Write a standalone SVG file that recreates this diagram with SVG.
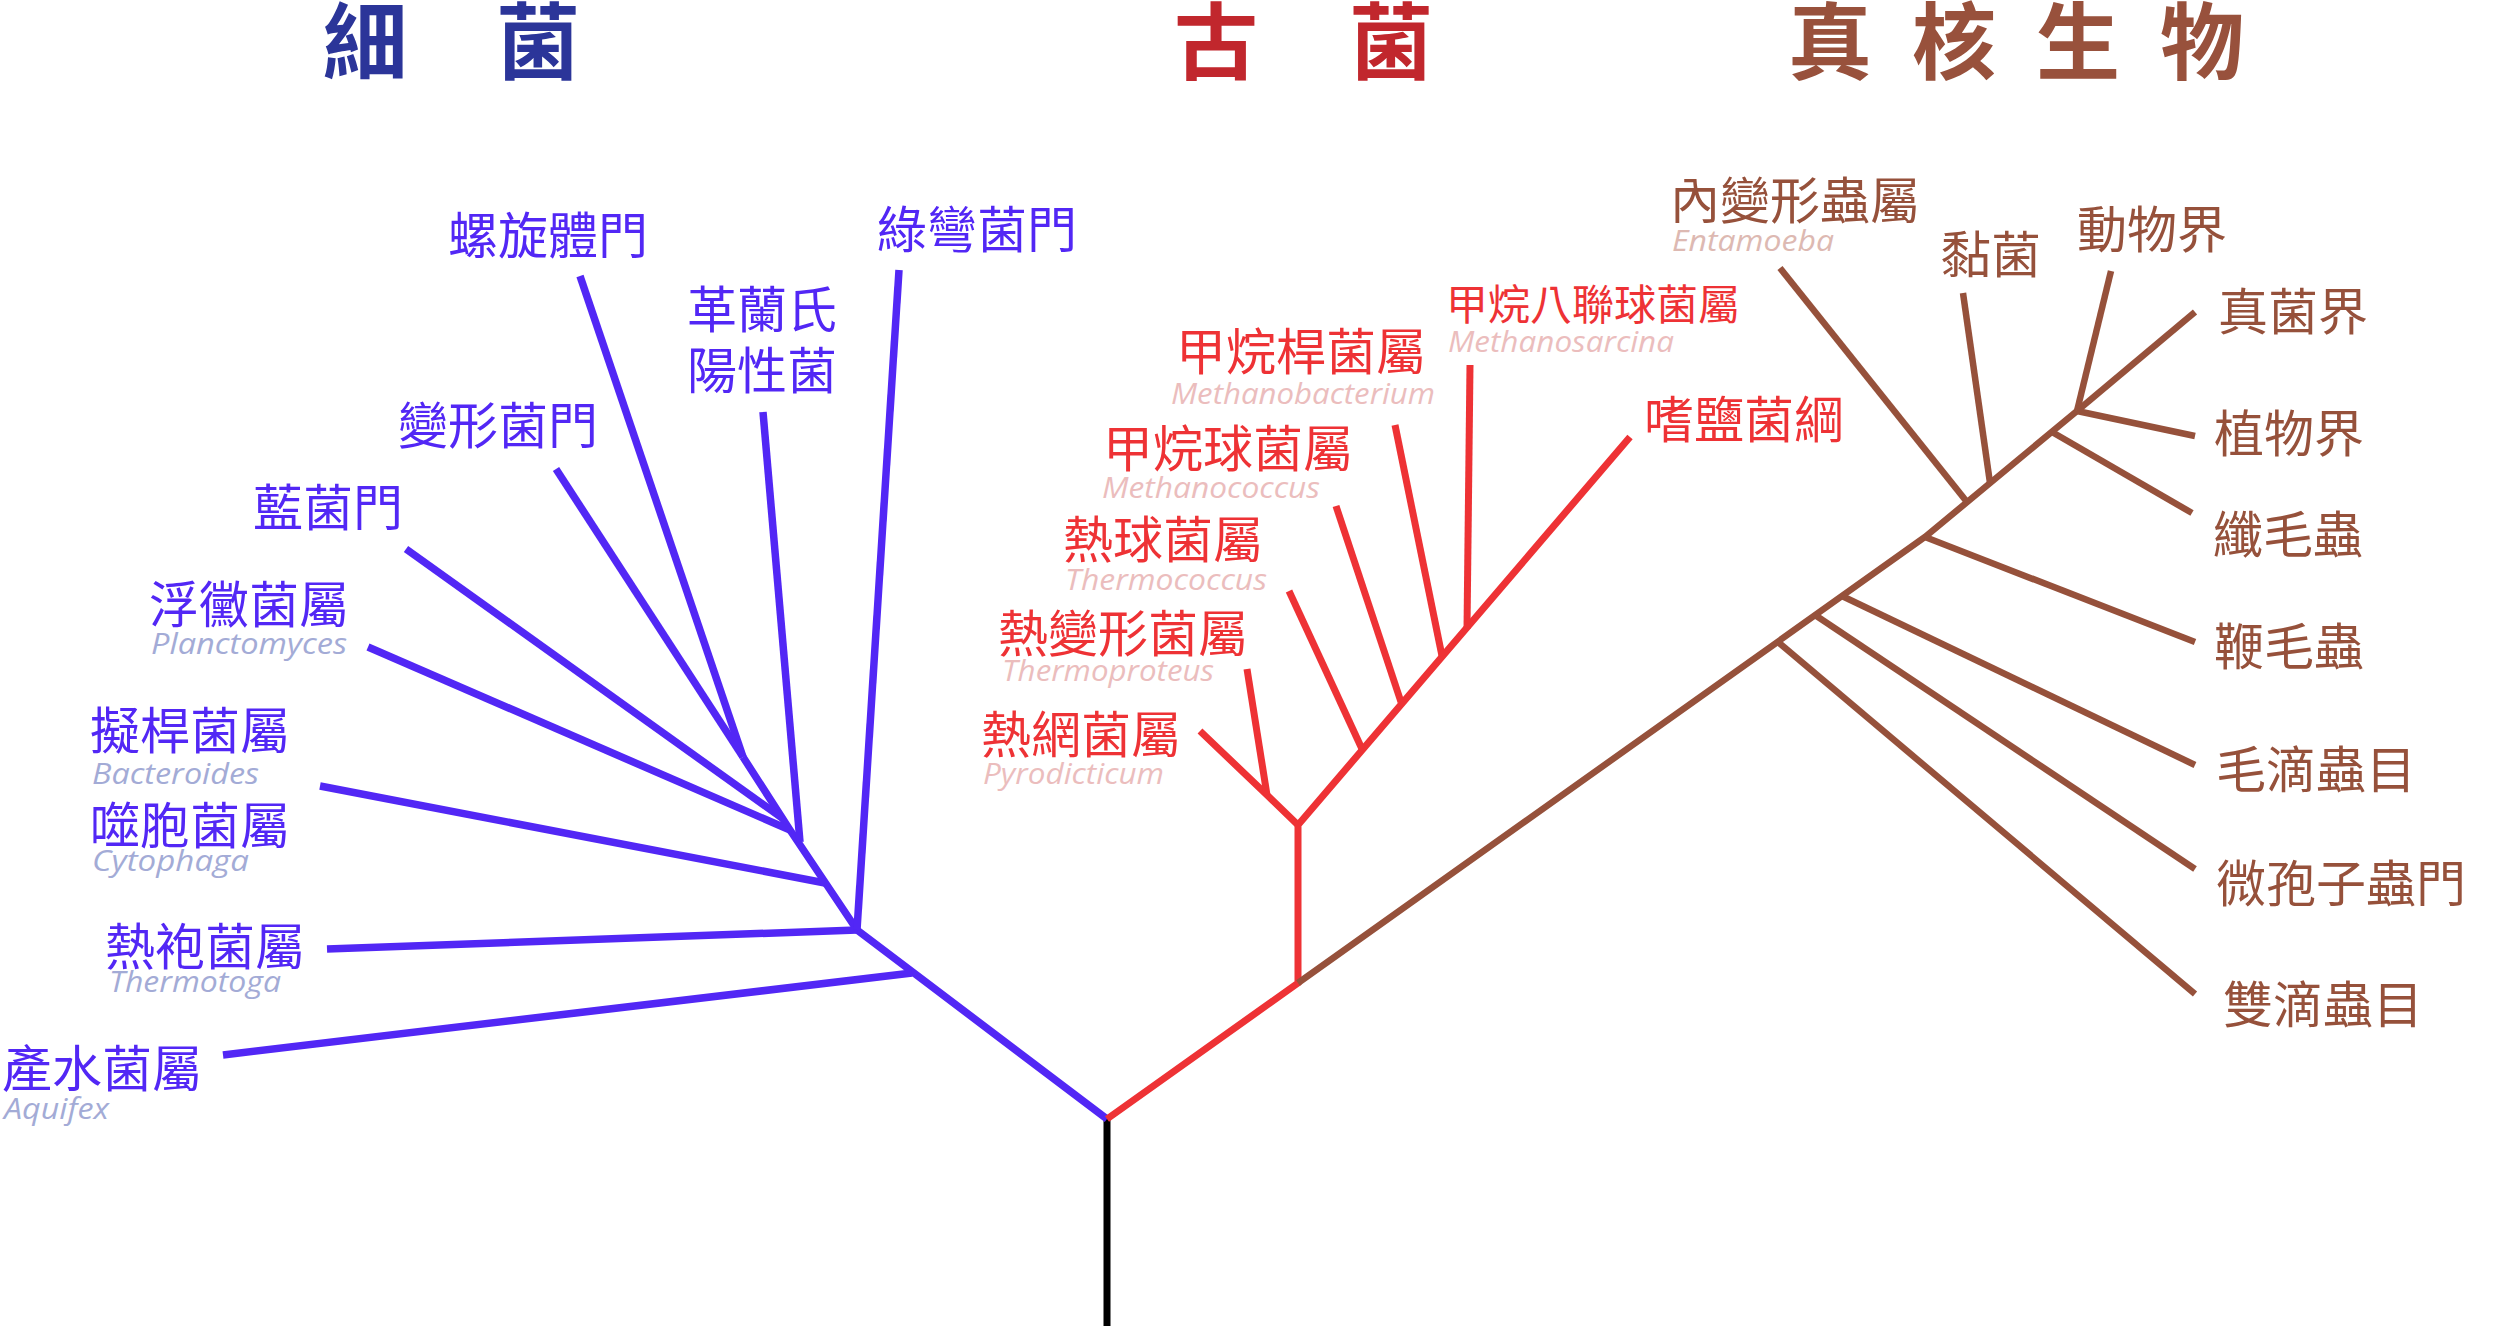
<svg xmlns="http://www.w3.org/2000/svg" width="2500" height="1326" viewBox="0 0 2500 1326">
<style>
.t{font-family:"Noto Sans CJK TC","Noto Sans CJK SC",sans-serif;font-weight:700;font-size:84px}
.l{font-family:"Noto Sans CJK TC","Noto Sans CJK SC",sans-serif;font-size:50px}
.s{font-size:42px}
.i{font-family:"Open Sans","Liberation Sans",sans-serif;font-style:italic;font-size:30px}
.bt{fill:#2B3599}.rt{fill:#C1272D}.et{fill:#98513C}
.b{fill:#5227F5}.bi{fill:#A3ABD6}
.r{fill:#EE3235}.ri{fill:#EBBDBD}
.e{fill:#96513B}.ei{fill:#DDB9B2}
.cb{stroke:#5227F5;stroke-width:7.5;fill:none;stroke-linejoin:miter}
.cr{stroke:#EE3235;stroke-width:7;fill:none;stroke-linejoin:miter}
.ce{stroke:#96513B;stroke-width:6.5;fill:none;stroke-linejoin:miter}
.ck{stroke:#000;stroke-width:7;fill:none}
</style>
<g id="titles">
<text id="title-bacteria" class="t bt" x="365 538" y="73" text-anchor="middle">細菌</text>
<text id="title-archaea" class="t rt" x="1216 1391" y="73" text-anchor="middle">古菌</text>
<text id="title-eukaryota" class="t et" x="1830 1954 2078 2202" y="73" text-anchor="middle">真核生物</text>
</g>
<g id="connectors">
<line class="ck" x1="1107" y1="1119" x2="1107" y2="1326"/>
<polyline class="cb" points="1107,1119 857,930 790,830 743,757"/>
<line class="cb" x1="912" y1="973" x2="223" y2="1055"/>
<line class="cb" x1="857" y1="930" x2="327" y2="949"/>
<line class="cb" x1="857" y1="930" x2="899" y2="270"/>
<line class="cb" x1="825" y1="883" x2="320" y2="786"/>
<line class="cb" x1="800" y1="842" x2="763" y2="412"/>
<line class="cb" x1="790" y1="830" x2="368" y2="647"/>
<line class="cb" x1="782" y1="818" x2="406" y2="549"/>
<line class="cb" x1="743" y1="757" x2="556" y2="469"/>
<line class="cb" x1="743" y1="757" x2="580" y2="276"/>
<polyline class="cr" points="1107,1119 1298,983 1298,825 1630,437"/>
<polyline class="cr" points="1298,825 1267,795 1200,731"/>
<line class="cr" x1="1267" y1="795" x2="1247" y2="669"/>
<line class="cr" x1="1362" y1="749" x2="1289" y2="591"/>
<line class="cr" x1="1401" y1="702" x2="1336" y2="506"/>
<line class="cr" x1="1442" y1="656" x2="1395" y2="425"/>
<line class="cr" x1="1467" y1="629" x2="1470" y2="365"/>
<polyline class="ce" points="1298,983 1925,537 2077,411"/>
<line class="ce" x1="1778" y1="642" x2="2195" y2="994"/>
<line class="ce" x1="1815" y1="615" x2="2195" y2="869"/>
<line class="ce" x1="1842" y1="596" x2="2195" y2="765"/>
<line class="ce" x1="1925" y1="537" x2="2195" y2="642"/>
<line class="ce" x1="1967" y1="502" x2="1780" y2="268"/>
<line class="ce" x1="1990" y1="483" x2="1963" y2="293"/>
<line class="ce" x1="2052" y1="432" x2="2192" y2="513"/>
<line class="ce" x1="2077" y1="411" x2="2111" y2="271"/>
<line class="ce" x1="2077" y1="411" x2="2195" y2="312"/>
<line class="ce" x1="2077" y1="411" x2="2195" y2="436"/>
</g>
<g id="spirochaetes"><text class="l b" x="448" y="254">螺旋體門</text></g>
<g id="chloroflexi"><text class="l b" x="877" y="248">綠彎菌門</text></g>
<g id="gram-positive"><text class="l b" x="687" y="328">革蘭氏</text><text class="l b" x="687" y="389">陽性菌</text></g>
<g id="proteobacteria"><text class="l b" x="398" y="444">變形菌門</text></g>
<g id="cyanobacteria"><text class="l b" x="253" y="526">藍菌門</text></g>
<g id="planctomyces"><text class="l b" x="149" y="623">浮黴菌屬</text><text class="i bi" x="151" y="654" textLength="196" lengthAdjust="spacingAndGlyphs">Planctomyces</text></g>
<g id="bacteroides"><text class="l b" x="90" y="749">擬桿菌屬</text><text class="i bi" x="92" y="784" textLength="167" lengthAdjust="spacingAndGlyphs">Bacteroides</text></g>
<g id="cytophaga"><text class="l b" x="90" y="844">噬胞菌屬</text><text class="i bi" x="92" y="871" textLength="157" lengthAdjust="spacingAndGlyphs">Cytophaga</text></g>
<g id="thermotoga"><text class="l b" x="105" y="965">熱袍菌屬</text><text class="i bi" x="109" y="992" textLength="172" lengthAdjust="spacingAndGlyphs">Thermotoga</text></g>
<g id="aquifex"><text class="l b" x="2" y="1087">產水菌屬</text><text class="i bi" x="4" y="1119" textLength="105" lengthAdjust="spacingAndGlyphs">Aquifex</text></g>
<g id="methanosarcina"><text class="l s r" x="1446" y="320">甲烷八聯球菌屬</text><text class="i ri" x="1448" y="352" textLength="226" lengthAdjust="spacingAndGlyphs">Methanosarcina</text></g>
<g id="methanobacterium"><text class="l r" x="1176" y="370">甲烷桿菌屬</text><text class="i ri" x="1171" y="404" textLength="264" lengthAdjust="spacingAndGlyphs">Methanobacterium</text></g>
<g id="methanococcus"><text class="l r" x="1103" y="467">甲烷球菌屬</text><text class="i ri" x="1102" y="498" textLength="218" lengthAdjust="spacingAndGlyphs">Methanococcus</text></g>
<g id="thermococcus"><text class="l r" x="1063" y="558">熱球菌屬</text><text class="i ri" x="1065" y="590" textLength="202" lengthAdjust="spacingAndGlyphs">Thermococcus</text></g>
<g id="thermoproteus"><text class="l r" x="998" y="652">熱變形菌屬</text><text class="i ri" x="1002" y="681" textLength="212" lengthAdjust="spacingAndGlyphs">Thermoproteus</text></g>
<g id="pyrodicticum"><text class="l r" x="981" y="753">熱網菌屬</text><text class="i ri" x="983" y="784" textLength="181" lengthAdjust="spacingAndGlyphs">Pyrodicticum</text></g>
<g id="halobacteria"><text class="l r" x="1644" y="438">嗜鹽菌綱</text></g>
<g id="entamoeba"><text class="l e" x="1670" y="219">內變形蟲屬</text><text class="i ei" x="1672" y="251" textLength="162" lengthAdjust="spacingAndGlyphs">Entamoeba</text></g>
<g id="slime-molds"><text class="l e" x="1941" y="273">黏菌</text></g>
<g id="animals"><text class="l e" x="2077" y="248">動物界</text></g>
<g id="fungi"><text class="l e" x="2218" y="330">真菌界</text></g>
<g id="plants"><text class="l e" x="2214" y="452">植物界</text></g>
<g id="ciliates"><text class="l e" x="2213" y="553">纖毛蟲</text></g>
<g id="flagellates"><text class="l e" x="2214" y="665">鞭毛蟲</text></g>
<g id="trichomonads"><text class="l e" x="2216" y="788">毛滴蟲目</text></g>
<g id="microsporidia"><text class="l e" x="2216" y="902">微孢子蟲門</text></g>
<g id="diplomonads"><text class="l e" x="2223" y="1023">雙滴蟲目</text></g>
</svg>
